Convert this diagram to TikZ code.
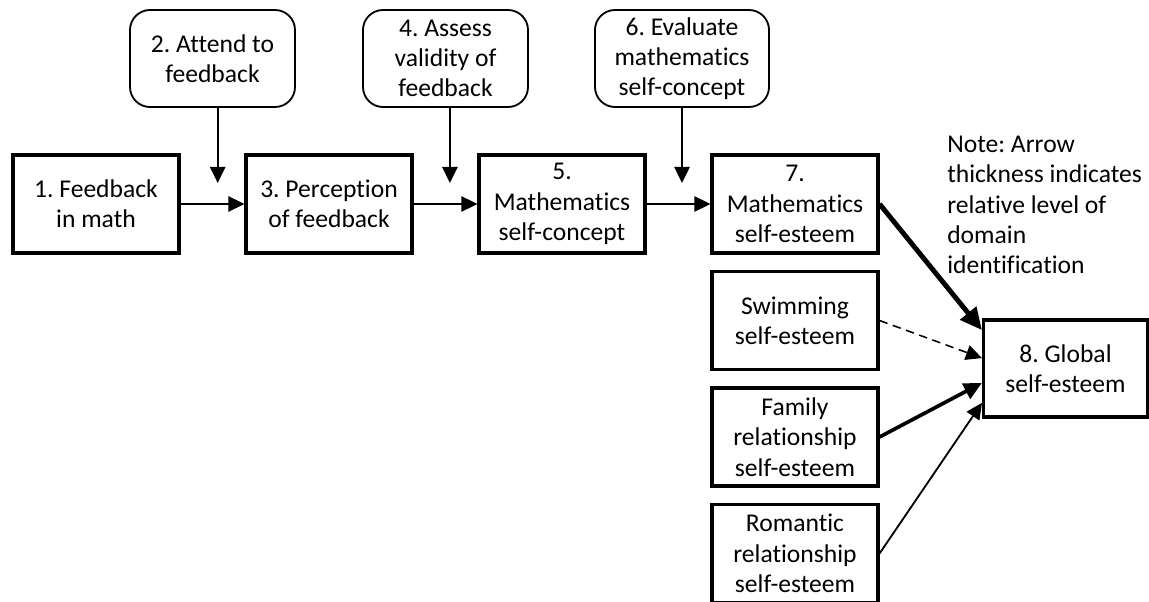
\documentclass[tikz,border=0pt]{standalone}
\usepackage{fontspec}
\setmainfont{Carlito}[Ligatures=NoCommon]
\usetikzlibrary{positioning, arrows.meta}
\frenchspacing

\begin{document}
\begin{tikzpicture}[>={Triangle[length=4mm,width=3.8mm]},node distance=5.825cm,on grid,
  font=\fontsize{18.2}{21.5}\selectfont]
\tikzstyle{stage}=[rectangle,draw,line width=2.2pt,minimum width=4.15cm,minimum height=2.45cm,align=center,inner sep=2pt]
\tikzstyle{check}=[rectangle,draw,rounded corners=0.5cm,line width=1.3pt,minimum width=4.125cm,minimum height=2.425cm,align=center,inner sep=2pt]
\tikzstyle{link}=[line width=1.3pt]

\useasboundingbox (0,0) rectangle (28.725,-15.05);

%-- Main chain --
\node[stage] (fb) at (2.4,-5.1) {1. Feedback\\in math};
\node[stage] (perc) [right=of fb] {3. Perception\\of feedback};
\node[stage] (conc) [right=of perc] {5.\\Mathematics\\self-concept};
\node[stage] (math) [right=of conc] {7.\\Mathematics\\self-esteem};

%-- Checks above the chain --
\node[check] (att) [above=3.6375cm of fb, xshift=2.9125cm] {2. Attend to\\feedback};
\node[check] (val) [above=3.6375cm of perc, xshift=2.9125cm] {4. Assess\\validity of\\feedback};
\node[check, minimum width=4.35cm] (eval) [above=3.6375cm of conc, xshift=3cm] {6. Evaluate\\mathematics\\self-concept};
\coordinate[below=3.1125cm of att, xshift=1.3mm] (att-tip);
\coordinate[below=3.1125cm of val, xshift=1.1mm] (val-tip);
\coordinate[below=3.1125cm of eval] (eval-tip);

%-- Other domains --
\node[stage] (swim) [below=2.9125cm of math] {Swimming\\self-esteem};
\node[stage] (fam) [below=2.9125cm of swim] {Family\\relationship\\self-esteem};
\node[stage] (rom) [below=2.9125cm of fam] {Romantic\\relationship\\self-esteem};
\node[stage, minimum width=4.1cm, minimum height=2.425cm] (glob) [right=6.7625cm of swim, yshift=-1.2cm] {8. Global\\self-esteem};

\node[anchor=north west, align=left, inner sep=0pt] (note) at (23.675,-3.4)
  {Note: Arrow\\thickness indicates\\relative level of\\domain\\identification};

%-- Transitions --
\path[->]
  % chain
  (fb) edge[link] (perc)
  (perc) edge[link] (conc)
  (conc) edge[link] (math)

  % checks
  (att-tip |- att.south) edge[link] (att-tip)
  (val-tip |- val.south) edge[link] (val-tip)
  (eval) edge[link] (eval-tip)

  % into global self-esteem
  (math.east) edge[line width=3.5pt, -{Triangle[length=5.5mm,width=5mm]}] ([yshift=0.96cm]glob.west)
  (swim.east) edge[line width=1.1pt, dash pattern=on 6pt off 4pt] ([yshift=0.26cm]glob.west)
  (fam.east) edge[line width=2.6pt, -{Triangle[length=4.5mm,width=4.2mm]}] ([yshift=-0.36cm]glob.west)
  (rom.east) edge[link] ([yshift=-0.86cm]glob.west);

\end{tikzpicture}
\end{document}
